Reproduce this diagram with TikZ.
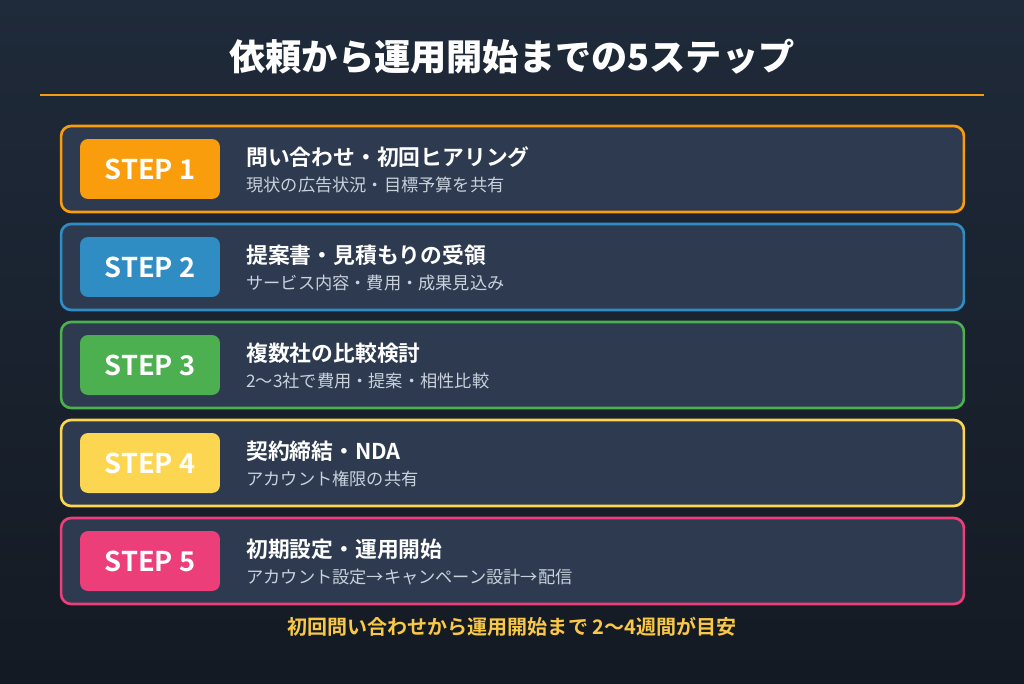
\documentclass[tikz,border=0pt]{standalone}
\usepackage{fontspec}
\setmainfont{Noto Sans CJK JP}[BoldFont={Noto Sans CJK JP Bold}]
\newfontfamily\titlefont{Noto Sans CJK JP Black}
\usetikzlibrary{calc}

\definecolor{bgtop}{HTML}{1F2A3A}
\definecolor{bgbottom}{HTML}{141A23}
\definecolor{cardfill}{HTML}{2D3A4F}
\definecolor{subgray}{HTML}{C9D1DC}
\definecolor{linegold}{HTML}{F39C12}
\definecolor{notegold}{HTML}{F9C846}
\definecolor{stepone}{HTML}{FA9D0C}
\definecolor{steptwo}{HTML}{2F8DC3}
\definecolor{stepthree}{HTML}{4CAF50}
\definecolor{stepfour}{HTML}{FDD651}
\definecolor{stepfive}{HTML}{EC3F7A}

\begin{document}
\begin{tikzpicture}[
		x=0.02cm, y=-0.02cm,
		card/.style={fill=cardfill, line width=1.5pt, rounded corners=0.2cm, minimum width=18.06cm, minimum height=1.72cm, inner sep=0},
		badge/.style={rounded corners=0.16cm, minimum width=2.8cm, minimum height=1.2cm, inner sep=0, text=white, font=\bfseries\fontsize{15.5}{18}\selectfont},
		head/.style={anchor=west, inner sep=0, text=white, font=\bfseries\fontsize{12.4}{15}\selectfont},
		sub/.style={anchor=west, inner sep=0, text=subgray, font=\fontsize{9.8}{12}\selectfont},
	]
		\shade[top color=bgtop, bottom color=bgbottom] (0,0) rectangle (1024,683);
		\useasboundingbox (0,0) rectangle (1024,683);

		\node (title) at (512,57) [text=white, font=\titlefont\fontsize{20.6}{24}\selectfont] {依頼から運用開始までの5ステップ};
		\draw[linegold, line width=1.6pt] (40,95) -- (984,95);

		\foreach \i/\col/\headtext/\subtext in {
			1/stepone/{問い合わせ・初回ヒアリング}/{現状の広告状況・目標予算を共有},
			2/steptwo/{提案書・見積もりの受領}/{サービス内容・費用・成果見込み},
			3/stepthree/{複数社の比較検討}/{2〜3社で費用・提案・相性比較},
			4/stepfour/{契約締結・NDA}/{アカウント権限の共有},
			5/stepfive/{初期設定・運用開始}/{アカウント設定→キャンペーン設計→配信}} {
			\pgfmathsetmacro\off{98*(\i-1)}
			\node (card\i) at (512.5,169+\off) [card, draw=\col] {};
			\node (badge\i) at (150,169+\off) [badge, fill=\col] {STEP \i};
			\node (head\i) at (246,157+\off) [head] {\headtext};
			\node (sub\i) at (246,185+\off) [sub] {\subtext};
		}

		\node (note) at (512,627) [text=notegold, font=\bfseries\fontsize{11.4}{13}\selectfont] {初回問い合わせから運用開始まで 2〜4週間が目安};
	\end{tikzpicture}
\end{document}
